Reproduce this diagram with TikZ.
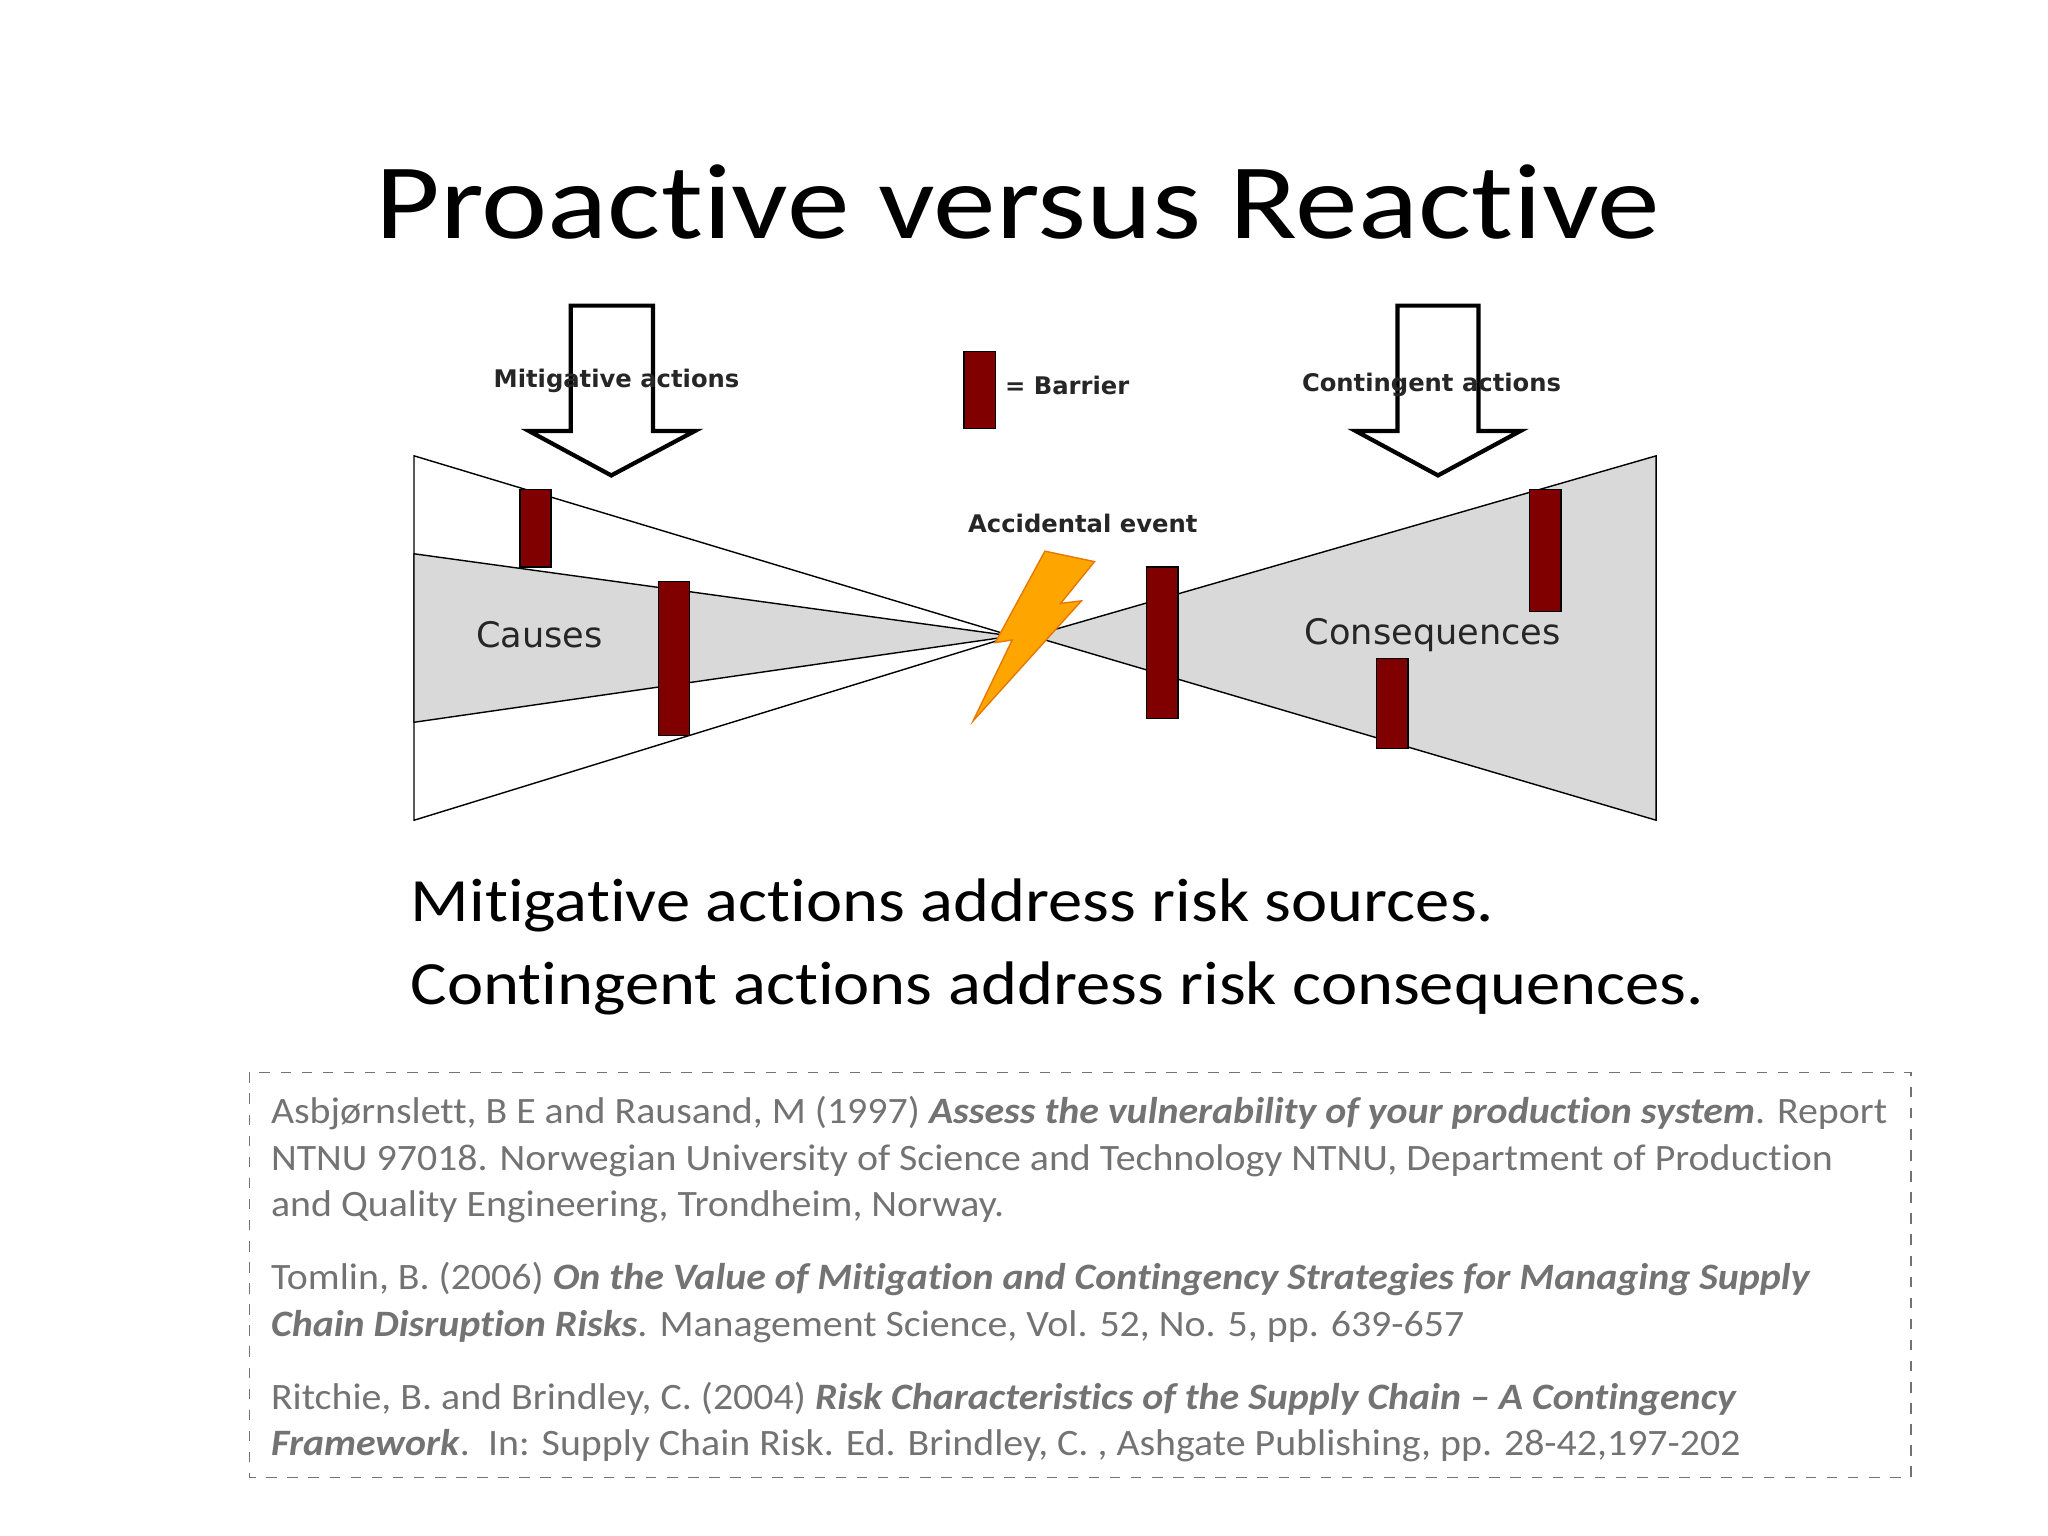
\documentclass[tikz,border=0pt]{standalone}
\usepackage{fontspec}
\setmainfont[Ligatures={NoCommon,TeX}]{Carlito}
\newfontfamily\lab{DejaVu Sans}
\begin{document}
\begin{tikzpicture}[x=0.013061cm,y=-0.013061cm,
  barrier/.style={fill={rgb,255:red,128;green,0;blue,0},draw=black,line width=0.4pt},
  lbl/.style={font=\lab\fontsize{6.9}{9}\selectfont\bfseries,text=black!85},
  big/.style={font=\lab\fontsize{10}{12}\selectfont,text=black!85},
  hollow/.style={draw=black,line width=1.2pt,fill=white}]
\useasboundingbox (0,0) rectangle (1568,1176);
\node (title) at (779,155) {\scalebox{1.17}[1]{\fontsize{30.5}{36}\selectfont Proactive versus Reactive}};
% bowtie
\coordinate (apex) at (775,487);
\draw[fill=white] (317,349) -- (apex) -- (317,628) -- cycle;
\draw[fill=black!15] (317,424) -- (apex) -- (317,553) -- cycle;
\draw[fill=black!15] (1268,349) -- (790,487) -- (1268,628) -- cycle;
\draw (790,487) -- (apex);
% barriers
\draw[barrier] (398,375) rectangle (422,434);
\draw[barrier] (504,445) rectangle (528,563);
\draw[barrier] (878,434) rectangle (902,550);
\draw[barrier] (1171,375) rectangle (1195,468);
\draw[barrier] (1054,504) rectangle (1078,573);
\draw[barrier] (738,269) rectangle (762,328);
% arrows
\draw[hollow] (437,234) -- (500,234) -- (500,330) -- (532,330) -- (468,364) -- (405,330) -- (437,330) -- cycle;
\draw[hollow] (1070,234) -- (1132,234) -- (1132,330) -- (1164,330) -- (1101,364) -- (1038,330) -- (1070,330) -- cycle;
% lightning
\draw[fill={rgb,255:red,255;green,165;blue,0},draw={rgb,255:red,230;green,120;blue,0}]
 (800,422) -- (838,430) -- (812,462) -- (828,460) -- (745,552) -- (775,490) -- (762,492) -- cycle;
% labels
\node[lbl] (mit) at (472,292) {Mitigative actions};
\node[lbl,anchor=west] (bar) at (760,295) {= Barrier};
\node[lbl] (con) at (1096,295) {Contingent actions};
\node[lbl] (acc) at (829,401) {Accidental event};
\node[big] (cau) at (413,486) {Causes};
\node[big] (cons) at (1097,486) {Consequences};
% body
\node[anchor=west,font=\fontsize{17.5}{21}\selectfont] (b1) at (305,693) {\scalebox{1.115}[1]{Mitigative actions address risk sources.}};
\node[anchor=west,font=\fontsize{17.5}{21}\selectfont] (b2) at (305,757) {\scalebox{1.115}[1]{Contingent actions address risk consequences.}};
% refs
\draw[dashed,draw=black!55] (191,821) rectangle (1463,1131);
\node[anchor=north west,inner sep=0pt] (refs) at (207,837)
{\scalebox{1.07}[1]{\begin{tabular}{@{}l@{}}\color{black!55}\fontsize{10.6}{13.6}\selectfont
Asbjørnslett, B E and Rausand, M (1997) \textbf{\textit{Assess the vulnerability of your production system}}. Report\\[1.3pt]
\color{black!55}\fontsize{10.6}{13.6}\selectfont NTNU 97018. Norwegian University of Science and Technology NTNU, Department of Production\\[1.3pt]
\color{black!55}\fontsize{10.6}{13.6}\selectfont and Quality Engineering, Trondheim, Norway.\\[8.7pt]
\color{black!55}\fontsize{10.6}{13.6}\selectfont Tomlin, B. (2006) \textbf{\textit{On the Value of Mitigation and Contingency Strategies for Managing Supply}}\\[1.3pt]
\color{black!55}\fontsize{10.6}{13.6}\selectfont\textbf{\textit{Chain Disruption Risks}}. Management Science, Vol. 52, No. 5, pp. 639-657\\[8.7pt]
\color{black!55}\fontsize{10.6}{13.6}\selectfont Ritchie, B. and Brindley, C. (2004) \textbf{\textit{Risk Characteristics of the Supply Chain – A Contingency}}\\[1.3pt]
\color{black!55}\fontsize{10.6}{13.6}\selectfont\textbf{\textit{Framework}}.\ \ In: Supply Chain Risk. Ed. Brindley, C. , Ashgate Publishing, pp. 28-42,197-202
\end{tabular}}};
\end{tikzpicture}
\end{document}
